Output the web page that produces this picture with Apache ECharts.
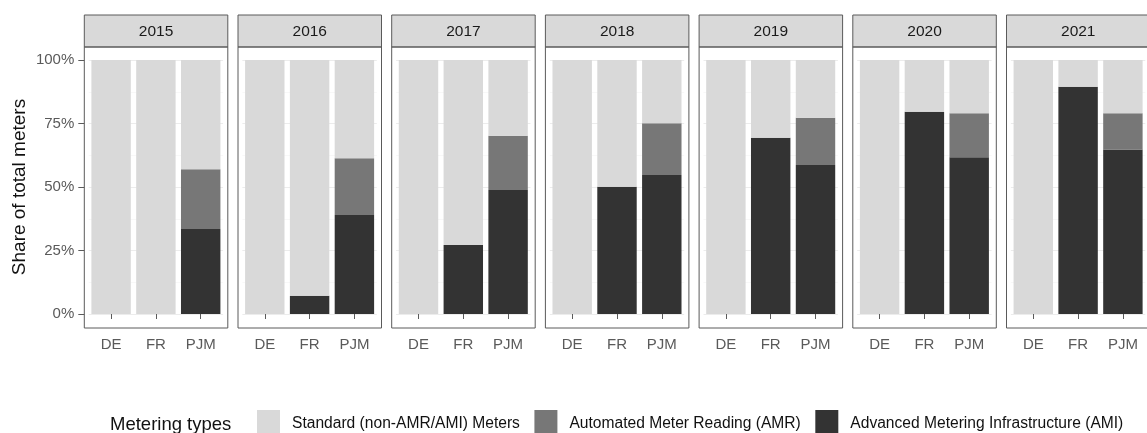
<!DOCTYPE html>
<html>
<head>
<meta charset="utf-8">
<script src="https://cdn.jsdelivr.net/npm/echarts@6/dist/echarts.min.js"></script>
<style>
  html, body { margin: 0; padding: 0; background: #fff; }
  #chart { width: 1147px; height: 433px; }
</style>
</head>
<body>
<div id="chart"></div>
<script>
  // data (shares of total meters)
  var years = ['2015', '2016', '2017', '2018', '2019', '2020', '2021'];
  var regions = ['DE', 'FR', 'PJM'];
  var yTickValues = [0, 0.25, 0.5, 0.75, 1];
  var typeNames = ['Standard (non-AMR/AMI) Meters', 'Automated Meter Reading (AMR)', 'Advanced Metering Infrastructure (AMI)'];

  // one row per year, one value per region
  var amiShare = [
    [0, 0, 0.335],
    [0, 0.072, 0.39],
    [0, 0.272, 0.488],
    [0, 0.501, 0.547],
    [0, 0.694, 0.587],
    [0, 0.796, 0.617],
    [0, 0.895, 0.648]
  ];
  var amrShare = [
    [0, 0, 0.235],
    [0, 0, 0.223],
    [0, 0, 0.214],
    [0, 0, 0.204],
    [0, 0, 0.186],
    [0, 0, 0.173],
    [0, 0, 0.142]
  ];
  var stdShare = [
    [1, 1, 0.43],
    [1, 0.928, 0.387],
    [1, 0.728, 0.298],
    [1, 0.499, 0.249],
    [1, 0.306, 0.227],
    [1, 0.204, 0.21],
    [1, 0.105, 0.21]
  ];

  // layout (facet panels like ggplot)
  var panelLeft0 = 84.3, panelStep = 153.7, panelW = 143.5;
  var stripTop = 15, panelTop = 47, panelBottom = 328;
  var plotTop = 60, plotH = 254;
  var colors = { std: '#d9d9d9', amr: '#777777', ami: '#333333' };
  var frameColor = '#5a5a5a';
  var font = 'Liberation Sans, Arial, sans-serif';

  var grids = [], xAxes = [], yAxes = [], series = [], graphics = [];

  years.forEach(function (yr, i) {
    var pl = panelLeft0 + i * panelStep;
    grids.push({
      left: pl + 4.4, top: plotTop, width: 134.4, height: plotH,
      outerBoundsMode: 'none', containLabel: false
    });
    xAxes.push({
      type: 'category', gridIndex: i, data: regions,
      offset: panelBottom - (plotTop + plotH),
      axisLine: { show: false },
      axisTick: { show: true, alignWithLabel: true, length: 5, lineStyle: { color: frameColor } },
      axisLabel: { color: '#5a5a5a', fontSize: 15, fontFamily: font, margin: 9 },
      splitLine: { show: false }
    });
    yAxes.push({
      type: 'value', gridIndex: i, min: 0, max: 1, interval: 0.25,
      offset: 4.4,
      name: i === 0 ? 'Share of total meters' : '',
      nameLocation: 'middle', nameGap: 55,
      nameTextStyle: { color: '#111', fontSize: 19, fontFamily: font },
      axisLine: { show: false },
      axisTick: { show: i === 0, length: 6, lineStyle: { color: frameColor } },
      axisLabel: {
        show: i === 0, color: '#5a5a5a', fontSize: 15, fontFamily: font, margin: 10,
        formatter: function (v) { return yTickValues.indexOf(v) >= 0 ? Math.round(v * 100) + '%' : ''; }
      },
      splitLine: { show: true, lineStyle: { color: '#ececec', width: 1 } },
      minorTick: { show: false, splitNumber: 2 },
      minorSplitLine: { show: true, lineStyle: { color: '#f4f4f4', width: 0.6 } }
    });

    var parts = [
      { name: typeNames[2], data: amiShare[i], color: colors.ami },
      { name: typeNames[1], data: amrShare[i], color: colors.amr },
      { name: typeNames[0], data: stdShare[i], color: colors.std }
    ];
    parts.forEach(function (p) {
      series.push({
        type: 'bar', name: p.name, xAxisIndex: i, yAxisIndex: i,
        stack: 'panel' + i, data: p.data, barWidth: '88%',
        itemStyle: { color: p.color }, silent: true
      });
    });

    // strip + panel border
    graphics.push({
      type: 'rect', shape: { x: pl, y: stripTop, width: panelW, height: panelTop - stripTop },
      style: { fill: '#d9d9d9', stroke: frameColor, lineWidth: 1 }, z: 10
    });
    graphics.push({
      type: 'text', x: pl + panelW / 2, y: (stripTop + panelTop) / 2 + 1,
      style: { text: yr, fill: '#1a1a1a', font: '15.5px ' + font, align: 'center', verticalAlign: 'middle' }, z: 11
    });
    graphics.push({
      type: 'rect', shape: { x: pl, y: panelTop, width: panelW, height: panelBottom - panelTop },
      style: { fill: 'none', stroke: frameColor, lineWidth: 1 }, z: 10, silent: true
    });
  });

  graphics.push({
    type: 'text', x: 110, y: 425,
    style: { text: 'Metering types', fill: '#111', font: '18.5px ' + font, verticalAlign: 'middle' }
  });

  var chart = echarts.init(document.getElementById('chart'), null, { renderer: 'canvas' });
  chart.setOption({
    backgroundColor: '#fff',
    animation: false,
    grid: grids,
    xAxis: xAxes,
    yAxis: yAxes,
    series: series,
    graphic: graphics,
    legend: {
      data: typeNames, left: 257, top: 410, orient: 'horizontal', padding: 0,
      itemWidth: 23, itemHeight: 28, itemGap: 14.5, icon: 'rect',
      selectedMode: false,
      textStyle: { color: '#111', fontSize: 15.6, fontFamily: font, padding: [0, 0, 0, 7] }
    }
  });
</script>
</body>
</html>
